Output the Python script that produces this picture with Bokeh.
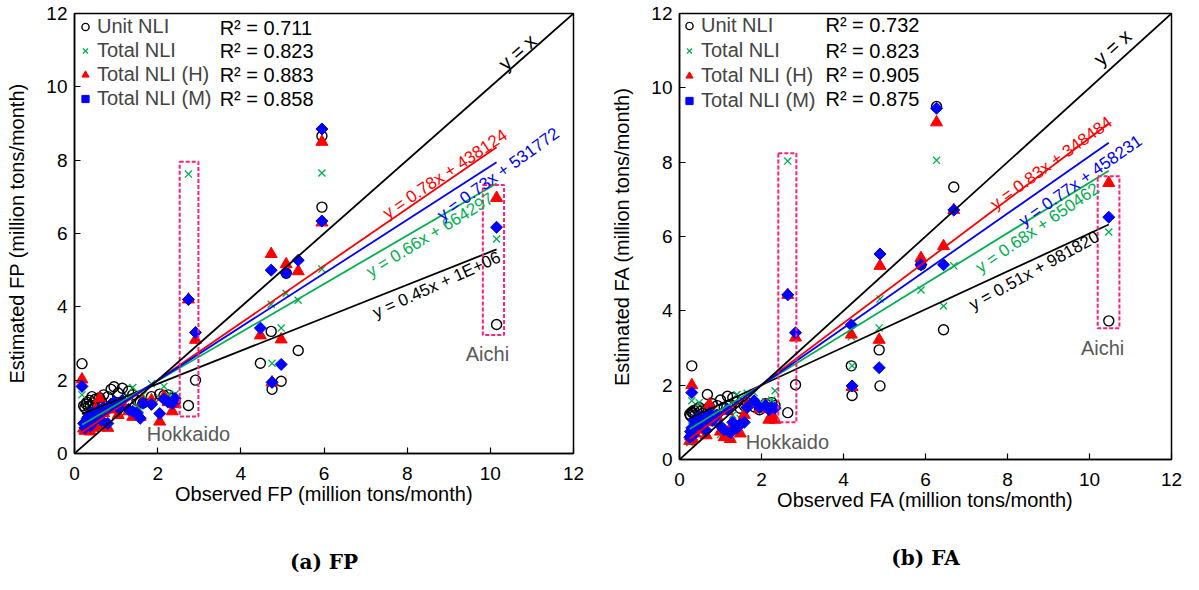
from bokeh.plotting import figure
from bokeh.models import (Legend, LegendItem, Label, BoxAnnotation, LinearAxis,
                          FixedTicker, SingleIntervalTicker, Range1d, Slope)
from bokeh.layouts import row
from bokeh.embed import file_html
from bokeh.resources import INLINE

# ---------------- data ----------------
series_names = ["Unit NLI", "Total NLI", "Total NLI (H)", "Total NLI (M)"]

# (a) FP  (million tons/month)
fp_obs = [0.18, 0.22, 0.25, 0.28, 0.30, 0.33, 0.36, 0.38, 0.42, 0.45,
          0.50, 0.55, 0.60, 0.65, 0.70, 0.80, 0.88, 0.95, 1.05, 1.15,
          1.30, 1.40, 1.50, 1.58, 1.65, 1.85, 2.05, 2.15, 2.25, 2.35,
          2.42, 2.74, 2.91, 4.47, 4.73, 4.75, 4.97, 5.09, 5.38, 5.95, 5.95, 10.15]
fp_unit = [2.45, 1.30, 1.25, 1.35, 1.40, 1.28, 1.45, 1.32, 1.55, 1.38,
           1.48, 1.35, 1.52, 1.42, 1.60, 1.55, 1.75, 1.82, 1.65, 1.78,
           1.70, 1.60, 1.45, 1.40, 1.38, 1.55, 1.62, 1.58, 1.60, 1.50,
           1.40, 1.31, 2.00, 2.46, 3.33, 1.75, 1.97, 4.92, 2.81, 8.66, 6.72, 3.52]
fp_total = [1.60, 0.75, 0.65, 0.90, 0.85, 0.95, 1.00, 0.70, 1.10, 0.80,
            1.05, 0.92, 1.15, 0.88, 1.20, 0.78, 1.30, 1.35, 1.20, 1.40,
            1.55, 1.80, 1.30, 1.20, 1.60, 1.90, 1.50, 1.83, 1.60, 1.55,
            1.62, 7.62, 3.20, 3.30, 4.07, 2.46, 3.42, 4.37, 4.18, 7.65, 5.03, 5.85]
fp_h = [2.02, 0.68, 0.62, 0.80, 0.72, 0.85, 0.92, 0.60, 1.00, 0.70,
        1.20, 0.82, 1.50, 0.75, 1.10, 0.70, 1.20, 1.30, 1.05, 1.35,
        1.15, 1.00, 1.05, 1.00, 1.40, 1.45, 0.87, 1.55, 1.40, 1.15,
        1.35, 4.20, 3.10, 3.22, 5.44, 1.94, 3.11, 5.16, 4.97, 8.50, 6.30, 6.97]
fp_m = [1.83, 0.82, 0.70, 0.88, 0.95, 1.00, 1.05, 0.75, 1.12, 0.85,
        1.10, 0.98, 1.20, 0.90, 1.25, 0.82, 1.35, 1.40, 1.25, 1.45,
        1.20, 1.15, 1.10, 0.96, 1.37, 1.34, 1.09, 1.48, 1.40, 1.37,
        1.50, 4.20, 3.30, 3.42, 5.00, 1.94, 2.43, 4.92, 5.27, 8.85, 6.34, 6.17]
fp_r2 = ["0.711", "0.823", "0.883", "0.858"]
fp_slope = [0.45, 0.66, 0.78, 0.73]
fp_intercept = [1000000, 664297, 438124, 531772]          # tons/month
fp_eq = ["y = 0.45x + 1E+06", "y = 0.66x + 664297",
         "y = 0.78x + 438124", "y = 0.73x + 531772"]

# (b) FA  (million tons/month)
fa_obs = [0.25, 0.27, 0.30, 0.30, 0.33, 0.35, 0.38, 0.42, 0.48, 0.52,
          0.58, 0.65, 0.68, 0.73, 0.80, 0.92, 1.00, 1.09, 1.17, 1.24,
          1.30, 1.40, 1.48, 1.58, 1.65, 1.82, 1.95, 2.10, 2.18, 2.25,
          2.33, 2.64, 2.83, 4.19, 4.21, 4.87, 4.89, 5.89, 6.27, 6.44, 6.69, 10.47]
fa_unit = [1.22, 1.18, 2.52, 1.28, 1.25, 1.32, 1.20, 1.35, 1.40, 1.30,
           1.25, 1.35, 1.75, 1.42, 1.50, 1.45, 1.60, 1.40, 1.70, 1.48,
           1.66, 1.55, 1.38, 1.45, 1.53, 1.42, 1.34, 1.50, 1.40, 1.53,
           1.45, 1.26, 2.01, 2.52, 1.72, 2.95, 1.98, 5.24, 9.50, 3.49, 7.33, 3.73]
fa_total = [0.45, 0.70, 1.58, 0.90, 0.60, 1.00, 0.80, 1.10, 1.53, 0.85,
            1.00, 0.75, 1.20, 1.30, 1.10, 1.25, 0.67, 0.80, 1.40, 0.67,
            1.20, 1.75, 1.10, 1.35, 1.78, 1.80, 1.50, 1.55, 1.45, 1.60,
            1.85, 8.03, 3.40, 3.30, 2.52, 3.54, 4.32, 4.56, 8.05, 4.13, 5.21, 6.12]
fa_h = [0.50, 0.62, 2.00, 0.75, 0.55, 0.90, 0.70, 0.95, 1.10, 0.80,
        0.85, 0.65, 1.10, 1.48, 1.00, 1.15, 0.75, 0.60, 1.30, 0.55,
        0.95, 0.78, 0.70, 1.20, 1.48, 1.55, 1.35, 1.45, 1.07, 1.20,
        1.07, 4.43, 3.28, 3.36, 1.95, 3.22, 5.21, 5.42, 9.07, 5.74, 6.71, 7.44]
fa_m = [0.60, 0.75, 1.80, 0.85, 0.65, 1.05, 0.90, 1.00, 1.15, 0.95,
        1.02, 0.78, 1.15, 1.25, 1.05, 1.20, 0.90, 0.80, 1.35, 0.72,
        1.00, 0.85, 0.95, 1.00, 1.40, 1.58, 1.40, 1.45, 1.34, 1.40,
        1.38, 4.43, 3.41, 3.62, 1.98, 2.47, 5.53, 5.24, 9.45, 5.24, 6.71, 6.52]
fa_r2 = ["0.732", "0.823", "0.905", "0.875"]
fa_slope = [0.51, 0.68, 0.83, 0.77]
fa_intercept = [981820, 650462, 348484, 458231]
fa_eq = ["y = 0.51x + 981820", "y = 0.68x + 650462",
         "y = 0.83x + 348484", "y = 0.77x + 458231"]

# ---------------- style ----------------
FONT = "Liberation Sans"
COLORS = ["black", "#00B050", "#FF0000", "#0000FF"]
PINK = "#FF1F7A"
GREY = "#595959"


def make_panel(obs, ys, r2, slopes, intercepts, eqs, name, caption, g):
    p = figure(frame_width=g["fw"], frame_height=g["fh"],
               min_border_left=g["bl"], min_border_right=g["br"],
               min_border_top=g["bt"], min_border_bottom=g["bb"],
               x_range=Range1d(0, 12), y_range=Range1d(0, 12),
               output_backend="svg", toolbar_location=None)
    p.grid.visible = False
    p.background_fill_color = "white"
    p.outline_line_color = "black"
    p.outline_line_width = 1.5
    p.outline_line_alpha = 1

    p.xaxis.ticker = SingleIntervalTicker(interval=2, num_minor_ticks=0)
    p.yaxis.ticker = SingleIntervalTicker(interval=2, num_minor_ticks=0)
    for ax in (p.xaxis, p.yaxis):
        ax.major_tick_in = 6
        ax.major_tick_out = 0
        ax.minor_tick_line_color = None
        ax.axis_line_color = "black"
        ax.axis_line_width = 1.5
        ax.major_tick_line_width = 1.2
        ax.major_label_text_font = FONT
        ax.major_label_text_font_size = "19px"
        ax.major_label_text_color = "black"
        ax.axis_label_text_font = FONT
        ax.axis_label_text_font_size = "20px"
        ax.axis_label_text_font_style = "normal"
        ax.axis_label_text_color = "black"
    p.xaxis.axis_label = f"Observed {name} (million tons/month)"
    p.yaxis.axis_label = f"Estimated {name} (million tons/month)"
    p.xaxis.major_label_standoff = 13
    p.xaxis.axis_label_standoff = 0
    p.yaxis.major_label_standoff = 7
    p.yaxis.axis_label_standoff = 15

    # caption as an extra, tick-less axis below
    cap = LinearAxis(ticker=FixedTicker(ticks=[]), axis_label=caption,
                     axis_line_color=None, major_tick_line_color=None,
                     minor_tick_line_color=None, major_label_standoff=0,
                     axis_label_standoff=g["cap_off"],
                     axis_label_text_font="DejaVu Serif",
                     axis_label_text_font_size="20px",
                     axis_label_text_font_style="bold",
                     axis_label_text_color="black")
    p.add_layout(cap, "below")

    # highlight boxes (Hokkaido, Aichi)
    for (l, r, b, t) in g["boxes"]:
        p.add_layout(BoxAnnotation(left=l, right=r, bottom=b, top=t,
                                   fill_alpha=0, line_color=PINK, line_alpha=1,
                                   line_width=2, line_dash="4 2"))

    rs = []
    rs.append(p.scatter(obs, ys[0], marker="circle", size=10, fill_color=None,
                        line_color=COLORS[0], line_width=1.4))
    rs.append(p.scatter(obs, ys[1], marker="x", size=10,
                        line_color=COLORS[1], line_width=1.3))
    rs.append(p.scatter(obs, ys[2], marker="triangle", size=12,
                        fill_color=COLORS[2], line_color=COLORS[2]))
    rs.append(p.scatter(obs, ys[3], marker="square", angle=0.785398, size=8.5,
                        fill_color=COLORS[3], line_color=COLORS[3]))

    # y = x reference line
    p.add_layout(Slope(gradient=1, y_intercept=0, line_color="black",
                       line_width=1.8))
    # fitted trend lines
    x0, x1 = min(obs), max(obs)
    for k in range(4):
        a, c = slopes[k], intercepts[k] / 1e6
        p.line([x0, x1], [a * x0 + c, a * x1 + c], line_color=COLORS[k],
               line_width=1.8)

    for k in range(4):
        ex, ey, ang = g["eq_pos"][k]
        p.add_layout(Label(x=ex, y=ey, text=eqs[k], angle=ang,
                           angle_units="deg", text_align="center",
                           text_baseline="middle", text_font=FONT,
                           text_font_size="17px", text_color=COLORS[k]))
    yx, yy, yang = g["yx_pos"]
    p.add_layout(Label(x=yx, y=yy, text="y = x", angle=yang, angle_units="deg",
                       text_align="center", text_baseline="middle",
                       text_font=FONT, text_font_size="20px",
                       text_color="black"))
    for (tx, ty, txt) in g["names"]:
        p.add_layout(Label(x=tx, y=ty, text=txt, text_align="center",
                           text_baseline="middle", text_font=FONT,
                           text_font_size="20px", text_color=GREY))

    legend = Legend(items=[LegendItem(label=series_names[k], renderers=[rs[k]])
                           for k in range(4)],
                    location="top_left", margin=0, padding=g["pad"],
                    glyph_width=18, glyph_height=21, label_height=21,
                    label_standoff=3, spacing=g["spacing"],
                    label_text_font=FONT, label_text_font_size="20px",
                    background_fill_alpha=0, border_line_alpha=0)
    p.add_layout(legend)

    rx = g["r2_x"]
    for k in range(4):
        p.add_layout(Label(x=rx, y=g["r2_y"][k], text=f"R\u00b2 = {r2[k]}",
                           text_align="left", text_baseline="middle",
                           text_font=FONT, text_font_size="20px",
                           text_color="black"))
    return p


geo_a = dict(fw=499, fh=440, bl=74, br=30, bt=9, bb=125, cap_off=42,
             boxes=[(2.53, 2.98, 1.01, 7.96), (9.82, 10.33, 3.23, 7.32)],
             eq_pos=[(8.71, 4.60, 24.4), (8.55, 5.96, 31.5),
                     (8.91, 7.62, 33.9), (10.19, 7.62, 35.8)],
             yx_pos=(10.65, 10.95, 41.4),
             names=[(2.74, 0.52, "Hokkaido"), (9.93, 2.72, "Aichi")],
             pad=2, spacing=1,
             r2_x=3.49, r2_y=[11.61, 10.98, 10.33, 9.67])

geo_b = dict(fw=492, fh=446, bl=76, br=12, bt=13, bb=115, cap_off=32,
             boxes=[(2.41, 2.85, 1.00, 8.24), (10.20, 10.73, 3.53, 7.62)],
             eq_pos=[(8.65, 5.08, 29.0), (8.73, 6.23, 34.4),
                     (9.07, 7.98, 36.0), (9.78, 7.50, 35.0)],
             yx_pos=(10.56, 11.09, 42.0),
             names=[(2.63, 0.48, "Hokkaido"), (10.32, 3.01, "Aichi")],
             pad=1, spacing=2,
             r2_x=3.56, r2_y=[11.68, 10.98, 10.34, 9.69])

pa = make_panel(fp_obs, [fp_unit, fp_total, fp_h, fp_m], fp_r2, fp_slope,
                fp_intercept, fp_eq, "FP", "(a) FP", geo_a)
pb = make_panel(fa_obs, [fa_unit, fa_total, fa_h, fa_m], fa_r2, fa_slope,
                fa_intercept, fa_eq, "FA", "(b) FA", geo_b)

layout = row(pa, pb)
open("out.html", "w").write(file_html(layout, INLINE))
